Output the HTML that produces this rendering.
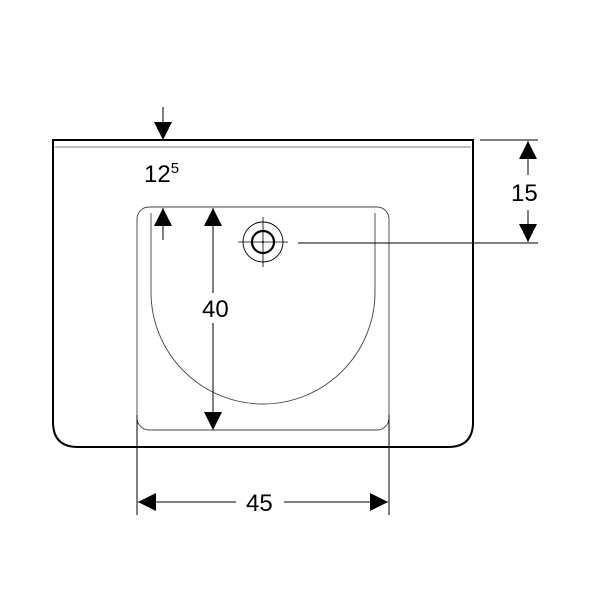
<!DOCTYPE html>
<html><head><style>body{margin:0;background:#fff}svg{display:block}</style></head><body>
<svg width="600" height="600" viewBox="0 0 600 600" xmlns="http://www.w3.org/2000/svg" font-family="Liberation Sans, sans-serif">
<defs>
<marker id="a" viewBox="0 0 10 10" refX="10" refY="5" markerWidth="18" markerHeight="18" markerUnits="userSpaceOnUse" orient="auto"><path d="M0,0L10,5L0,10z" fill="#000"/></marker>
</defs>
<path d="M53,140 L53,422 Q53,447 78,447 L448,447 Q473,447 473,422 L473,140 Z" fill="none" stroke="#000" stroke-width="2"/>
<path d="M55,147 L471,147" stroke="#555" stroke-width="0.8" fill="none"/>
<rect x="137" y="207" width="252" height="223" rx="12" fill="#fff" stroke="#444" stroke-width="0.9"/>
<path d="M151,213 L151,292 A112,112 0 0 0 375,292 L375,213" fill="none" stroke="#444" stroke-width="0.9"/>
<circle cx="263" cy="242" r="20" fill="none" stroke="#000" stroke-width="0.9"/>
<circle cx="263" cy="242" r="11" fill="none" stroke="#000" stroke-width="2.2"/>
<path d="M238,242H288M263,217V267" stroke="#000" stroke-width="0.8"/>
<circle cx="263" cy="242" r="1" fill="#000"/>
<line x1="163" y1="107" x2="163" y2="140" stroke="#000" marker-end="url(#a)"/>
<line x1="163" y1="240" x2="163" y2="208" stroke="#000" marker-end="url(#a)"/>
<text x="144" y="182" font-size="24">12<tspan dy="-9" font-size="15">5</tspan></text>
<line x1="213" y1="300" x2="213" y2="208" stroke="#000" marker-end="url(#a)"/>
<line x1="213" y1="320" x2="213" y2="430" stroke="#000" marker-end="url(#a)"/>
<rect x="200" y="293" width="36" height="30" fill="#fff"/>
<text x="202" y="317" font-size="24">40</text>
<line x1="480" y1="140" x2="538" y2="140" stroke="#000"/>
<line x1="298" y1="243" x2="538" y2="243" stroke="#000"/>
<line x1="528" y1="175" x2="528" y2="141" stroke="#000" marker-end="url(#a)"/>
<line x1="528" y1="210" x2="528" y2="242" stroke="#000" marker-end="url(#a)"/>
<text x="511" y="201" font-size="24">15</text>
<line x1="137" y1="415" x2="137" y2="515" stroke="#000"/>
<line x1="389" y1="415" x2="389" y2="515" stroke="#000"/>
<line x1="236" y1="502" x2="138" y2="502" stroke="#000" marker-end="url(#a)"/>
<line x1="284" y1="502" x2="388" y2="502" stroke="#000" marker-end="url(#a)"/>
<text x="246" y="511" font-size="24">45</text>
</svg>
</body></html>
